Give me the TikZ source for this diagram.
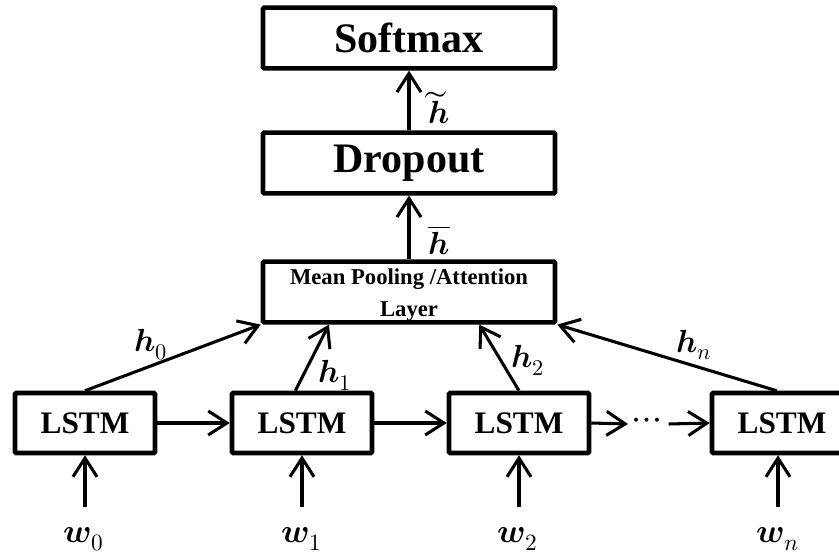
\documentclass[tikz,border=0pt]{standalone}
\usepackage{fontspec}
\usepackage{unicode-math}
\setmainfont{Liberation Serif}
\setmathfont{Latin Modern Math}
\usetikzlibrary{arrows.meta,calc}

\tikzset{every picture/.style={line width=0.75pt}}
\tikzset{
	blk/.style={draw, line width=3.4pt, rounded corners=0.8pt, inner sep=0pt, font=\bfseries},
	bigblk/.style={blk, minimum width=219pt, minimum height=45.5pt},
	cell/.style={blk, minimum width=105pt, minimum height=45pt, font=\fontsize{23.5}{26}\selectfont\bfseries},
	lbl/.style={inner sep=0pt, font=\fontsize{24}{26}\selectfont},
	wlbl/.style={inner sep=0pt, font=\fontsize{25}{28}\selectfont},
	flow/.style={line width=2.3pt, -{Straight Barb[length=14pt, width=18pt, line width=2.3pt]}}
}

\begin{document}
\begin{tikzpicture}[x=0.75pt,y=0.75pt,yscale=-1,xscale=1]
		\clip (0,0) rectangle (839,556);
		
		%Shape: Rectangle [top blocks]
		\draw (409,38) node [bigblk, font=\fontsize{31.5}{34}\selectfont\bfseries] (softmax) {Softmax};
		\draw (409,163) node [bigblk, font=\fontsize{31.5}{34}\selectfont\bfseries] (dropout) {Dropout};
		\draw (409,292) node [bigblk] (pool) {\phantom{M}};
		\draw (409,295) node [inner sep=0pt, align=center, font=\fontsize{17}{24.5}\selectfont\bfseries] (pooltxt) {Mean Pooling /Attention\\Layer};
		
		%Shape: Rectangle [LSTM cells]
		\draw (85,423) node [cell] (lstm0) {LSTM};
		\draw (302,423) node [cell] (lstm1) {LSTM};
		\draw (519,423) node [cell] (lstm2) {LSTM};
		\draw (782,423) node [cell] (lstmn) {LSTM};
		\draw (647,424) node [inner sep=0pt, font=\fontsize{28}{30}\selectfont] (dots) {$\cdots$};
		
		%inputs
		\coordinate (in0) at (85,507);
		\coordinate (in1) at (302,507);
		\coordinate (in2) at (519,507);
		\coordinate (inn) at (778,507);
		\draw (84,539) node [wlbl] (w0) {$\symbfit{w}_0$};
		\draw (302,539) node [wlbl] (w1) {$\symbfit{w}_1$};
		\draw (518,539) node [wlbl] (w2) {$\symbfit{w}_2$};
		\draw (778,539) node [wlbl] (wn) {$\symbfit{w}_n$};
		\draw [flow] (in0) -- (lstm0.south);
		\draw [flow] (in1) -- (lstm1.south);
		\draw [flow] (in2) -- (lstm2.south);
		\draw [flow] (inn) -- (inn |- lstmn.south);
		
		%recurrence
		\draw [flow] (lstm0.east) -- (lstm1.west);
		\draw [flow] (lstm1.east) -- (lstm2.west);
		\draw [flow] (lstm2.east) -- ([xshift=-3pt]dots.west);
		\draw [flow] ([xshift=5pt]dots.east) -- (lstmn.west);
		
		%hidden states
		\draw [flow] (lstm0.north) -- (pool.south west);
		\draw [flow] ([xshift=-5]lstm1.north) -- ($(pool.south west)!0.23!(pool.south east)$);
		\draw [flow] (lstm2.north) -- ($(pool.south west)!0.737!(pool.south east)$);
		\draw [flow] ([xshift=-4]lstmn.north) -- (pool.south east);
		\draw (151,345) node [lbl] (h0) {$\symbfit{h}_0$};
		\draw (335,375) node [lbl] (h1) {$\symbfit{h}_1$};
		\draw (528,360) node [lbl] (h2) {$\symbfit{h}_2$};
		\draw (694,345) node [lbl] (hn) {$\symbfit{h}_n$};
		
		%pooled vector
		\draw [flow] (pool.north) -- (dropout.south);
		\draw [flow] (dropout.north) -- (softmax.south);
		\draw (439,240) node [lbl] (hbar) {$\overline{\symbfit{h}}$};
		\draw (439,108) node [lbl] (htil) {$\widetilde{\symbfit{h}}$};
		
\end{tikzpicture}
\end{document}
